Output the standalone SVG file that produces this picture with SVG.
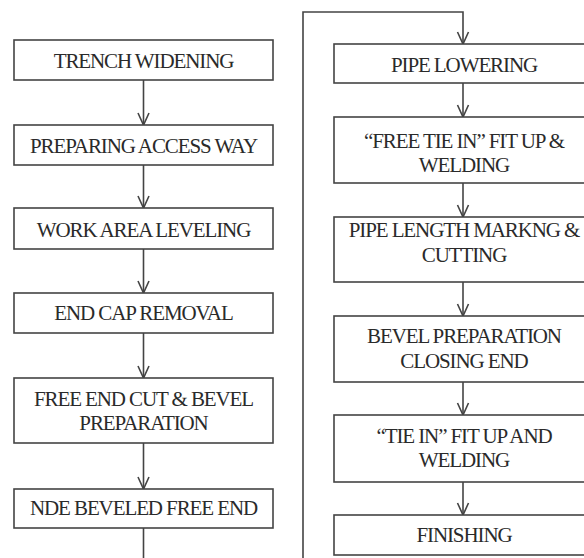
<svg xmlns="http://www.w3.org/2000/svg" width="584" height="558" viewBox="0 0 584 558">
<style>
.box{fill:#fff;stroke:#444;stroke-width:1.6}
.t{font-size:21px;letter-spacing:-1.1px;fill:#2a2a2a;text-anchor:middle}
.c{fill:none;stroke:#444;stroke-width:1.6}
</style>
<defs>
<marker id="ah" markerUnits="userSpaceOnUse" markerWidth="14" markerHeight="14" viewBox="-13 -7 14 14" refX="0" refY="0" orient="auto" overflow="visible">
<path d="M-12,-5.5 L0,0 L-12,5.5" fill="none" stroke="#444" stroke-width="1.6"/>
</marker>
</defs>
<rect width="584" height="558" fill="#fff"/>
<g id="connectors">
<line class="c" x1="143.5" y1="80" x2="143.5" y2="125" marker-end="url(#ah)"/>
<line class="c" x1="143.5" y1="165" x2="143.5" y2="208" marker-end="url(#ah)"/>
<line class="c" x1="143.5" y1="249" x2="143.5" y2="293" marker-end="url(#ah)"/>
<line class="c" x1="143.5" y1="333" x2="143.5" y2="378" marker-end="url(#ah)"/>
<line class="c" x1="143.5" y1="443" x2="143.5" y2="489" marker-end="url(#ah)"/>
<line class="c" x1="143.5" y1="528" x2="143.5" y2="560"/>
<polyline class="c" points="303,560 303,12 463,12 463,44" marker-end="url(#ah)"/>
<line class="c" x1="463" y1="83" x2="463" y2="117" marker-end="url(#ah)"/>
<line class="c" x1="463" y1="183" x2="463" y2="217" marker-end="url(#ah)"/>
<line class="c" x1="463" y1="282" x2="463" y2="316" marker-end="url(#ah)"/>
<line class="c" x1="463" y1="382" x2="463" y2="415" marker-end="url(#ah)"/>
<line class="c" x1="463" y1="482" x2="463" y2="515" marker-end="url(#ah)"/>
</g>
<g font-family="Liberation Serif, Times New Roman, serif">
<g id="n1"><rect class="box" x="14" y="40" width="259" height="40"/><text class="t" x="143.5" y="68">TRENCH WIDENING</text></g>
<g id="n2"><rect class="box" x="14" y="125" width="259" height="40"/><text class="t" x="143.5" y="153">PREPARING ACCESS WAY</text></g>
<g id="n3"><rect class="box" x="14" y="208" width="259" height="41"/><text class="t" x="143.5" y="237">WORK AREA LEVELING</text></g>
<g id="n4"><rect class="box" x="14" y="293" width="259" height="40"/><text class="t" x="143.5" y="320">END CAP REMOVAL</text></g>
<g id="n5"><rect class="box" x="14" y="378" width="259" height="65"/><text class="t" x="143.5" y="406">FREE END CUT &amp; BEVEL</text><text class="t" x="143.5" y="430">PREPARATION</text></g>
<g id="n6"><rect class="box" x="14" y="489" width="259" height="39"/><text class="t" x="143.5" y="515">NDE BEVELED FREE END</text></g>
<g id="n7"><rect class="box" x="334" y="44" width="262" height="39"/><text class="t" x="464" y="72">PIPE LOWERING</text></g>
<g id="n8"><rect class="box" x="334" y="117" width="262" height="66"/><text class="t" x="464" y="148">“FREE TIE IN” FIT UP &amp;</text><text class="t" x="464" y="172">WELDING</text></g>
<g id="n9"><rect class="box" x="334" y="217" width="262" height="65"/><text class="t" x="464" y="237">PIPE LENGTH MARKNG &amp;</text><text class="t" x="464" y="262">CUTTING</text></g>
<g id="n10"><rect class="box" x="334" y="316" width="262" height="66"/><text class="t" x="464" y="343">BEVEL PREPARATION</text><text class="t" x="464" y="368">CLOSING END</text></g>
<g id="n11"><rect class="box" x="334" y="415" width="262" height="67"/><text class="t" x="464" y="443">“TIE IN” FIT UP AND</text><text class="t" x="464" y="467">WELDING</text></g>
<g id="n12"><rect class="box" x="334" y="515" width="262" height="40"/><text class="t" x="464" y="542">FINISHING</text></g>
</g>
</svg>
